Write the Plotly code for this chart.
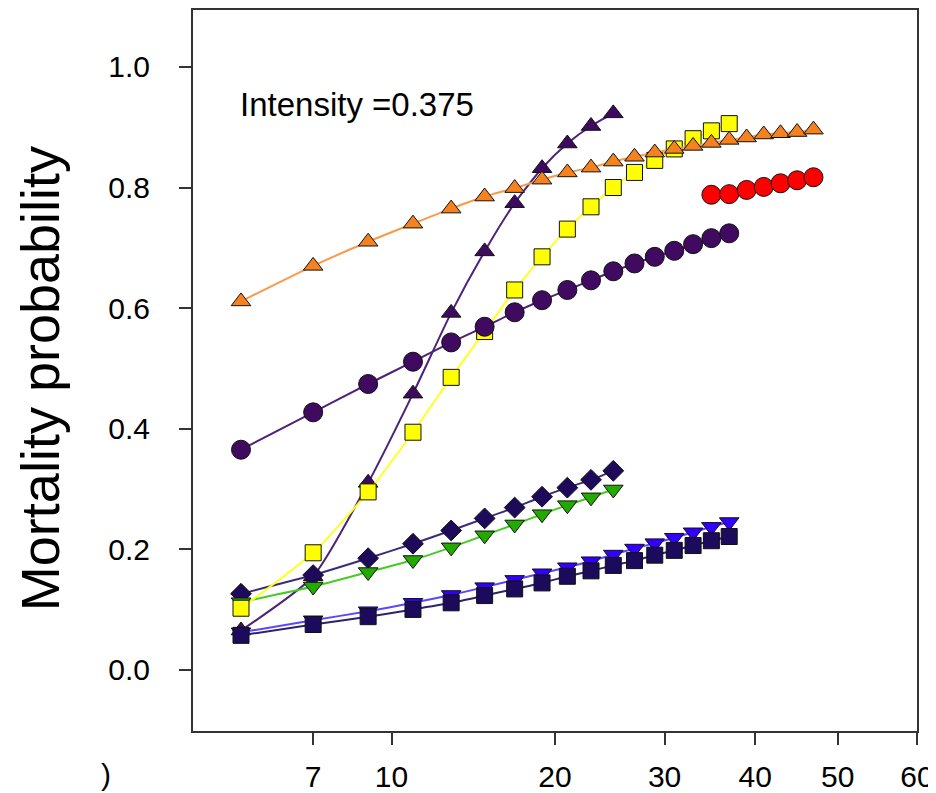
import numpy as np
import plotly.graph_objects as go

# ---- data (size classes on x, mortality probability on y) ----
sizes_5_47 = list(range(5, 48, 2))   # 5..47
sizes_5_37 = list(range(5, 38, 2))   # 5..37
sizes_5_25 = list(range(5, 26, 2))   # 5..25
sizes_35_47 = list(range(35, 48, 2)) # 35..47

orange_tri = [0.611, 0.670, 0.710, 0.740, 0.765, 0.785, 0.799, 0.813, 0.825, 0.833, 0.843,
              0.851, 0.858, 0.864, 0.869, 0.874, 0.879, 0.883, 0.888, 0.890, 0.892, 0.896]
purple_tri = [0.065, 0.155, 0.310, 0.458, 0.592, 0.694, 0.774, 0.832, 0.873, 0.902, 0.923]
yellow_sq = [0.102, 0.194, 0.295, 0.394, 0.485, 0.561, 0.630, 0.685, 0.731, 0.768, 0.800,
             0.825, 0.845, 0.864, 0.881, 0.894, 0.906]
purple_circ = [0.365, 0.427, 0.474, 0.511, 0.543, 0.569, 0.593, 0.613, 0.630, 0.646, 0.661,
               0.674, 0.685, 0.695, 0.706, 0.716, 0.724]
red_circ = [0.788, 0.789, 0.796, 0.801, 0.807, 0.812, 0.817]
navy_diamond = [0.126, 0.157, 0.185, 0.209, 0.231, 0.251, 0.269, 0.287, 0.302, 0.315, 0.330]
green_dtri = [0.112, 0.138, 0.162, 0.182, 0.203, 0.223, 0.241, 0.258, 0.273, 0.286, 0.299]
blue_dtri = [0.062, 0.082, 0.097, 0.111, 0.124, 0.137, 0.149, 0.160, 0.170, 0.180, 0.191,
             0.201, 0.210, 0.219, 0.228, 0.237, 0.245]
navy_sq = [0.057, 0.075, 0.088, 0.100, 0.111, 0.123, 0.134, 0.144, 0.155, 0.164, 0.173,
           0.181, 0.190, 0.198, 0.206, 0.214, 0.221]

x_tick_labels = [7, 10, 20, 30, 40, 50, 60]
y_tick_values = [0.0, 0.2, 0.4, 0.6, 0.8, 1.0]

# ---- x axis scale of the original chart (non-standard, log-like) ----
K1 = 143.0
K2 = 8116.0
def xscale(v):
    v = np.asarray(v, dtype=float)
    return np.log(v) + v / K1 + v * v / K2

FONT = "Liberation Sans, Arial, sans-serif"

series = [
    # name, x, y, symbol, fill, line colour, marker size
    ("blue", sizes_5_37, blue_dtri, "triangle-down", "#3300FF", "#5A46FF", 17),
    ("purple_tri", sizes_5_25, purple_tri, "triangle-up", "#3D0A60", "#4E2278", 17),
    ("navy_sq", sizes_5_37, navy_sq, "square", "#1C0A5C", "#302266", 16),
    ("diamond", sizes_5_25, navy_diamond, "diamond", "#1E0A5A", "#3A2C7A", 16),
    ("green", sizes_5_25, green_dtri, "triangle-down", "#22AA00", "#44CC22", 17),
    ("yellow", sizes_5_37, yellow_sq, "square", "#FFFF00", "#FFFF22", 16),
    ("orange", sizes_5_47, orange_tri, "triangle-up", "#F5821F", "#F89A4A", 17),
    ("purple_circ", sizes_5_37, purple_circ, "circle", "#3F0A5F", "#4E2278", 19),
    ("red", sizes_35_47, red_circ, "circle", "#FF0000", "#FF2222", 19),
]

fig = go.Figure()
for name, xs, ys, sym, fill, lcol, msize in series:
    fig.add_trace(go.Scatter(
        x=xscale(xs), y=ys, mode="lines+markers", name=name,
        line=dict(color=lcol, width=2, shape="spline", smoothing=0.6),
        marker=dict(symbol=sym, size=msize, color=fill,
                    line=dict(color="#111111", width=1)),
        showlegend=False, hoverinfo="skip"))

# page has an 8px body margin; plot area spans page x 192.7..916.7, y 10..731.3
x_left = (192.7 + 95.72) / 204.2
x_right = (916.7 + 95.72) / 204.2
PH = 721.3

def px(xp):
    return (xp - 192.7) / 724.0

def py(yp):
    return (731.3 - yp) / PH

fig.update_layout(
    width=928, height=785,
    margin=dict(l=184.7, r=19.3, t=2, b=61.7, autoexpand=False),
    paper_bgcolor="white", plot_bgcolor="white",
    font=dict(family=FONT, color="black"),
    xaxis=dict(range=[x_left, x_right], tickmode="array", automargin=False,
               tickvals=list(xscale(x_tick_labels)),
               ticktext=[str(t) for t in x_tick_labels],
               ticks="outside", ticklen=12, tickwidth=1.5, tickcolor="#333",
               showline=True, linecolor="#333", linewidth=2, mirror=True,
               showgrid=False, zeroline=False, ticklabeloverflow="allow",
               tickfont=dict(size=30, family=FONT), ticklabelstandoff=6),
    yaxis=dict(range=[-0.1017, 1.0945], tickmode="array", automargin=False,
               tickvals=y_tick_values,
               ticktext=["%.1f" % v for v in y_tick_values],
               ticks="outside", ticklen=12, tickwidth=1.5, tickcolor="#333",
               showline=True, linecolor="#333", linewidth=2, mirror=True,
               showgrid=False, zeroline=False,
               tickfont=dict(size=30, family=FONT), ticklabelstandoff=23),
    annotations=[
        dict(text="Intensity =0.375", xref="paper", yref="paper",
             x=px(238), y=py(105),
             xanchor="left", yanchor="middle", showarrow=False,
             font=dict(size=33, family=FONT, color="black")),
        dict(text="Mortality probability", xref="paper", yref="paper",
             x=px(40), y=py(379), textangle=-90,
             xanchor="center", yanchor="middle", showarrow=False,
             font=dict(size=54, family=FONT, color="black")),
        dict(text=")", xref="paper", yref="paper",
             x=px(106), y=py(775),
             xanchor="center", yanchor="middle", showarrow=False,
             font=dict(size=30, family=FONT, color="black")),
    ],
)

fig.write_html("out.html")
